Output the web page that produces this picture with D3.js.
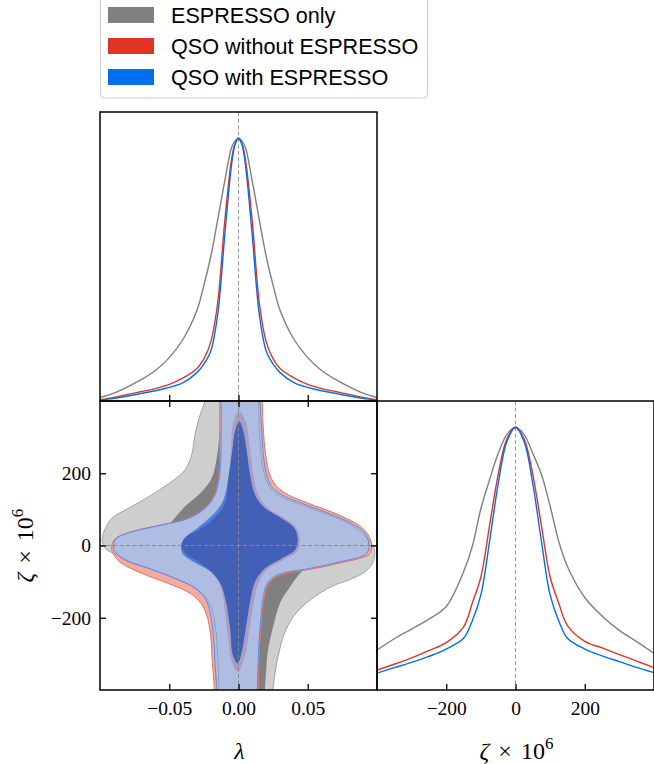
<!DOCTYPE html>
<html>
<head>
<meta charset="utf-8">
<script src="https://cdn.jsdelivr.net/npm/d3@7"></script>
<style>
  body { margin: 0; background: #fff; }
</style>
</head>
<body>
<div id="corner"></div>
<script>
var svgWidth = 654;
var svgHeight = 764;

// panel edges (px)
var x0 = 100, x1 = 377, x2 = 654;
var y0 = 112, y1 = 401, y2 = 690;

// 1D marginal of lambda (normalised to peak)
var lambdaGrid = [-0.1, -0.09, -0.08, -0.07, -0.06, -0.05, -0.04, -0.03, -0.025, -0.02, -0.015, -0.01, -0.005, -0.0025, 0,
  0.0025, 0.005, 0.01, 0.015, 0.02, 0.025, 0.03, 0.04, 0.05, 0.06, 0.07, 0.08, 0.09, 0.1];
var greyLambda = [0.013, 0.030, 0.054, 0.082, 0.116, 0.165, 0.235, 0.345, 0.44, 0.55, 0.69, 0.835, 0.965, 0.99, 1,
  0.99, 0.965, 0.835, 0.69, 0.55, 0.44, 0.345, 0.235, 0.165, 0.116, 0.082, 0.054, 0.030, 0.013];
var redLambda = [0.005, 0.014, 0.025, 0.036, 0.047, 0.063, 0.088, 0.124, 0.16, 0.225, 0.375, 0.68, 0.92, 0.98, 1,
  0.98, 0.92, 0.68, 0.375, 0.225, 0.16, 0.124, 0.088, 0.063, 0.047, 0.036, 0.025, 0.014, 0.005];
var blueLambda = [0.003, 0.010, 0.019, 0.029, 0.039, 0.052, 0.07, 0.108, 0.14, 0.19, 0.33, 0.625, 0.9, 0.975, 1,
  0.975, 0.9, 0.625, 0.33, 0.19, 0.14, 0.108, 0.07, 0.052, 0.039, 0.029, 0.019, 0.010, 0.003];

// 1D marginal of zeta x 10^6
var zetaGrid = [-400, -350, -300, -250, -200, -150, -125, -100, -75, -50, -25, 0, 25, 50, 75, 100, 125, 150, 200, 250, 300, 350, 400];
var greyZeta = [0.152, 0.195, 0.232, 0.27, 0.318, 0.45, 0.545, 0.69, 0.80, 0.90, 0.972, 1, 0.972, 0.90, 0.82, 0.70, 0.565, 0.47, 0.352, 0.282, 0.227, 0.184, 0.14];
var redZeta = [0.076, 0.098, 0.122, 0.15, 0.18, 0.24, 0.33, 0.43, 0.625, 0.82, 0.955, 1, 0.955, 0.82, 0.625, 0.43, 0.33, 0.245, 0.185, 0.16, 0.135, 0.11, 0.085];
var blueZeta = [0.064, 0.085, 0.105, 0.128, 0.156, 0.197, 0.263, 0.362, 0.565, 0.785, 0.945, 1, 0.945, 0.785, 0.565, 0.362, 0.263, 0.197, 0.156, 0.13, 0.108, 0.086, 0.066];

// 2D contours [lambda, zeta], outer = 95%, inner = 68%
var greyOuter = [[-0.0236, 420], [0.0143, 420], [0.0145, 400], [0.0150, 324], [0.0163, 251], [0.0188, 195], [0.0228, 160],
  [0.0300, 136], [0.0450, 113], [0.0640, 86], [0.0800, 60], [0.0900, 32], [0.0945, 12], [0.0981, -8], [0.0973, -45],
  [0.0913, -73], [0.0800, -95], [0.0680, -112], [0.0520, -150], [0.0400, -195], [0.0330, -245], [0.0290, -300],
  [0.0265, -350], [0.0249, -400], [0.0245, -420], [-0.0135, -420], [-0.0140, -400], [-0.0148, -322], [-0.0160, -248],
  [-0.0185, -185], [-0.0225, -150], [-0.0295, -122], [-0.0440, -94], [-0.0630, -66], [-0.0790, -44], [-0.0875, -26],
  [-0.0950, -12], [-0.0982, 8], [-0.0980, 28], [-0.0955, 52], [-0.0916, 75], [-0.0795, 103], [-0.0627, 140],
  [-0.0483, 177], [-0.0386, 209], [-0.0338, 251], [-0.0314, 306], [-0.0278, 361], [-0.0242, 400]];
var greyInner = [[-0.0120, 420], [0.0095, 420], [0.0095, 400], [0.0105, 324], [0.0125, 241], [0.0170, 180], [0.0250, 140],
  [0.0380, 110], [0.0500, 80], [0.0560, 40], [0.0570, 0], [0.0540, -40], [0.0456, -72], [0.0372, -114], [0.0300, -159],
  [0.0250, -225], [0.0213, -289], [0.0200, -345], [0.0191, -400], [0.0190, -420], [-0.0100, -420], [-0.0100, -400],
  [-0.0110, -300], [-0.0130, -220], [-0.0170, -160], [-0.0250, -120], [-0.0380, -95], [-0.0500, -70], [-0.0560, -35],
  [-0.0565, 0], [-0.0530, 40], [-0.0471, 71], [-0.0386, 108], [-0.0266, 149], [-0.0194, 186], [-0.0158, 241],
  [-0.0134, 324], [-0.0122, 400]];
var redOuter = [[-0.0135, 420], [0.0172, 420], [0.0172, 400], [0.0179, 324], [0.0196, 251], [0.0227, 195], [0.0276, 163],
  [0.0360, 140], [0.0504, 117], [0.0697, 89], [0.0865, 57], [0.0937, 29], [0.0961, 1], [0.0945, -24], [0.0855, -38],
  [0.0745, -47], [0.0612, -59], [0.0470, -69], [0.0342, -77], [0.0260, -89], [0.0209, -110], [0.0183, -152],
  [0.0162, -226], [0.0150, -300], [0.0142, -400], [0.0142, -420], [-0.0174, -420], [-0.0174, -400], [-0.0189, -322],
  [-0.0201, -248], [-0.0230, -192], [-0.0271, -160], [-0.0350, -132], [-0.0507, -105], [-0.0699, -77], [-0.0844, -49],
  [-0.0904, -24], [-0.0916, -3], [-0.0892, 18], [-0.0783, 37], [-0.0567, 56], [-0.0374, 74], [-0.0252, 101],
  [-0.0176, 138], [-0.0140, 200], [-0.0135, 278], [-0.0135, 400]];
var redInner = [[0.0004, 372], [0.0052, 343], [0.0083, 269], [0.0107, 195], [0.0143, 140], [0.0215, 103], [0.0336, 75],
  [0.0420, 48], [0.0444, 15], [0.0427, -15], [0.0324, -40], [0.0203, -68], [0.0143, -105], [0.0107, -165],
  [0.0076, -238], [0.0042, -312], [-0.0006, -349], [-0.0049, -322], [-0.0078, -248], [-0.0100, -174], [-0.0122, -125],
  [-0.0175, -82], [-0.0270, -50], [-0.0375, -24], [-0.0410, 0], [-0.0382, 22], [-0.0290, 42], [-0.0190, 70],
  [-0.0100, 115], [-0.0072, 186], [-0.0054, 269], [-0.0037, 343]];
var blueOuter = [[-0.0126, 420], [0.0155, 420], [0.0155, 400], [0.0167, 324], [0.0179, 251], [0.0203, 195], [0.0239, 163],
  [0.0312, 140], [0.0456, 117], [0.0649, 89], [0.0817, 61], [0.0913, 34], [0.0942, 1], [0.0925, -22], [0.0841, -36],
  [0.0733, -45], [0.0600, -57], [0.0460, -67], [0.0332, -75], [0.0252, -87], [0.0202, -108], [0.0176, -150],
  [0.0156, -226], [0.0144, -300], [0.0136, -400], [0.0136, -420], [-0.0158, -420], [-0.0158, -400], [-0.0170, -322],
  [-0.0182, -248], [-0.0206, -183], [-0.0242, -146], [-0.0314, -118], [-0.0458, -91], [-0.0651, -63], [-0.0820, -40],
  [-0.0892, -17], [-0.0904, 0], [-0.0880, 20], [-0.0771, 38], [-0.0555, 57], [-0.0362, 75], [-0.0242, 103],
  [-0.0170, 140], [-0.0134, 204], [-0.0126, 278], [-0.0126, 400]];
var blueInner = [[0.0004, 343], [0.0035, 315], [0.0059, 260], [0.0083, 195], [0.0119, 140], [0.0191, 103], [0.0312, 75],
  [0.0403, 48], [0.0427, 15], [0.0408, -12], [0.0312, -36], [0.0191, -63], [0.0119, -100], [0.0083, -155],
  [0.0052, -229], [0.0023, -294], [-0.0006, -326], [-0.0040, -303], [-0.0060, -229], [-0.0090, -155], [-0.0130, -105],
  [-0.0210, -70], [-0.0330, -44], [-0.0405, -22], [-0.0415, 0], [-0.0388, 22], [-0.0305, 46], [-0.0198, 80],
  [-0.0115, 121], [-0.0074, 186], [-0.0045, 260], [-0.0025, 315]];

var lambdaTicks = [-0.05, 0, 0.05];
var zetaTicks = [-200, 0, 200];

var legendLabels = ["ESPRESSO only", "QSO without ESPRESSO", "QSO with ESPRESSO"];

var serif = "'Liberation Serif', 'Times New Roman', serif";

var svg = d3.select("#corner")
  .append("svg")
  .attr("width", svgWidth)
  .attr("height", svgHeight);

// Scales
var xLam = d3.scaleLinear().domain([-0.1, 0.1]).range([x0, x1]);
var yZeta = d3.scaleLinear().domain([-400, 400]).range([y2, y1]);
var xZeta = d3.scaleLinear().domain([-400, 400]).range([x1, x2]);
var yTop = d3.scaleLinear().domain([0, 1.1]).range([y1, y0]);
var yRight = d3.scaleLinear().domain([0, 1.1]).range([y2, y1]);

// clip paths
var defs = svg.append("defs");
function addClip(id, x, y, w, h) {
  defs.append("clipPath").attr("id", id)
    .append("rect").attr("x", x).attr("y", y).attr("width", w).attr("height", h);
}
addClip("clipTop", x0, y0, x1 - x0, y1 - y0);
addClip("clipLL", x0, y1, x1 - x0, y2 - y1);
addClip("clipLR", x1, y1, x2 - x1, y2 - y1);

var contourPath = d3.line()
  .x(d => xLam(d[0]))
  .y(d => yZeta(d[1]))
  .curve(d3.curveCatmullRomClosed.alpha(0.5));

defs.append("clipPath").attr("id", "clipRedInner")
  .append("path").attr("d", contourPath(redInner));

//Top panel: lambda marginal
var topG = svg.append("g").attr("clip-path", "url(#clipTop)");

topG.append("line")
  .attr("x1", xLam(0)).attr("x2", xLam(0))
  .attr("y1", y0).attr("y2", y1)
  .attr("stroke", "#9a9a9a").attr("stroke-width", 1).attr("stroke-dasharray", "4,2.5");

function drawMarginal(g, grid, values, xs, ys, color) {
  var line = d3.line()
    .x((d, i) => xs(grid[i]))
    .y(d => ys(d))
    .curve(d3.curveCatmullRom.alpha(0.5));
  g.append("path")
    .attr("d", line(values))
    .attr("fill", "none")
    .attr("stroke", color)
    .attr("stroke-width", 1.4);
}

drawMarginal(topG, lambdaGrid, greyLambda, xLam, yTop, "#808080");
drawMarginal(topG, lambdaGrid, redLambda, xLam, yTop, "#e03424");
drawMarginal(topG, lambdaGrid, blueLambda, xLam, yTop, "#006fed");

//Lower right panel: zeta marginal
var lrG = svg.append("g").attr("clip-path", "url(#clipLR)");

lrG.append("line")
  .attr("x1", xZeta(0)).attr("x2", xZeta(0))
  .attr("y1", y1).attr("y2", y2)
  .attr("stroke", "#9a9a9a").attr("stroke-width", 1).attr("stroke-dasharray", "4,2.5");

drawMarginal(lrG, zetaGrid, greyZeta, xZeta, yRight, "#808080");
drawMarginal(lrG, zetaGrid, redZeta, xZeta, yRight, "#e03424");
drawMarginal(lrG, zetaGrid, blueZeta, xZeta, yRight, "#006fed");

//Lower left panel: 2D contours
var llG = svg.append("g").attr("clip-path", "url(#clipLL)");

llG.append("path").attr("d", contourPath(greyOuter)).attr("fill", "#cecece");
llG.append("path").attr("d", contourPath(greyInner)).attr("fill", "#808080");
llG.append("path").attr("d", contourPath(redOuter)).attr("fill", "#f3aaa3");
llG.append("path").attr("d", contourPath(blueOuter)).attr("fill", "#b0bde3");
llG.append("path").attr("d", contourPath(redInner)).attr("fill", "#a99cc7");
llG.append("path").attr("d", contourPath(blueInner)).attr("fill", "#4d80de");
llG.append("g").attr("clip-path", "url(#clipRedInner)")
  .append("path").attr("d", contourPath(blueInner)).attr("fill", "#4160b6");

// contour edges
llG.append("path").attr("d", contourPath(greyOuter))
  .attr("fill", "none").attr("stroke", "#9c9c9c").attr("stroke-width", 0.9);
llG.append("path").attr("d", contourPath(redOuter))
  .attr("fill", "none").attr("stroke", "#ea6f64").attr("stroke-width", 1);
llG.append("path").attr("d", contourPath(blueOuter))
  .attr("fill", "none").attr("stroke", "#5a8de6").attr("stroke-width", 1);

// reference lines
llG.append("line")
  .attr("x1", xLam(0)).attr("x2", xLam(0)).attr("y1", y1).attr("y2", y2)
  .attr("stroke", "#888").attr("stroke-width", 1).attr("stroke-dasharray", "4,2.5");
llG.append("line")
  .attr("x1", x0).attr("x2", x1).attr("y1", yZeta(0)).attr("y2", yZeta(0))
  .attr("stroke", "#888").attr("stroke-width", 1).attr("stroke-dasharray", "4,2.5");

//Frames
[[x0, y0, x1, y1], [x0, y1, x1, y2], [x1, y1, x2, y2]].forEach(function(b) {
  svg.append("rect")
    .attr("x", b[0]).attr("y", b[1])
    .attr("width", b[2] - b[0]).attr("height", b[3] - b[1])
    .attr("fill", "none").attr("stroke", "#000").attr("stroke-width", 1.5);
});

//Axes (ticks point inwards)
function addAxis(axis, tx, ty) {
  var g = svg.append("g")
    .attr("transform", `translate(${tx}, ${ty})`)
    .call(axis);
  g.select(".domain").remove();
  g.selectAll("line").attr("stroke-width", 1.3);
  g.attr("font-family", serif).attr("font-size", 19.5);
  return g;
}

addAxis(d3.axisBottom(xLam).tickValues(lambdaTicks).tickSize(-6).tickFormat(""), 0, y1);
addAxis(d3.axisTop(xLam).tickValues(lambdaTicks).tickSize(-6).tickFormat(""), 0, y1);
addAxis(d3.axisBottom(xLam).tickValues(lambdaTicks).tickSize(-6).tickPadding(11).tickFormat(d3.format(".2f")), 0, y2);
addAxis(d3.axisLeft(yZeta).tickValues(zetaTicks).tickSize(-6).tickPadding(9).tickFormat(d3.format("d")), x0, 0);
addAxis(d3.axisRight(yZeta).tickValues(zetaTicks).tickSize(-6).tickFormat(""), x1, 0);
addAxis(d3.axisBottom(xZeta).tickValues(zetaTicks).tickSize(-6).tickPadding(11).tickFormat(d3.format("d")), 0, y2);

// Axis labels
svg.append("text")
  .attr("x", xLam(0) + 1)
  .attr("y", 759)
  .attr("text-anchor", "middle")
  .attr("font-family", serif)
  .attr("font-style", "italic")
  .attr("font-size", 24)
  .text("λ");

function zetaLabel(sel) {
  sel.attr("font-family", serif).attr("font-size", 24).attr("text-anchor", "middle");
  sel.append("tspan").attr("font-style", "italic").text("ζ");
  sel.append("tspan").attr("dx", 9).text("×");
  sel.append("tspan").attr("dx", 9).text("10");
  sel.append("tspan").attr("dy", -10).attr("font-size", 17).text("6");
}

svg.append("text")
  .attr("x", xZeta(0) + 1)
  .attr("y", 759)
  .call(zetaLabel);

svg.append("text")
  .attr("transform", `translate(33, ${yZeta(0)}) rotate(-90)`)
  .call(zetaLabel);

//Legend
var legend = svg.append("g");
legend.append("rect")
  .attr("x", 100.5).attr("y", -6)
  .attr("width", 327).attr("height", 104)
  .attr("rx", 4)
  .attr("fill", "#fff").attr("fill-opacity", 0.8)
  .attr("stroke", "#cccccc").attr("stroke-width", 1);

var legendColors = ["#808080", "#e03424", "#006fed"];
legendLabels.forEach(function(label, i) {
  legend.append("rect")
    .attr("x", 108).attr("y", 7 + i * 31)
    .attr("width", 46).attr("height", 16)
    .attr("fill", legendColors[i]);
  legend.append("text")
    .attr("x", 171).attr("y", 22.5 + i * 31)
    .attr("font-family", "'Liberation Sans', Arial, sans-serif")
    .attr("font-size", 21.6)
    .text(label);
});
</script>
</body>
</html>
